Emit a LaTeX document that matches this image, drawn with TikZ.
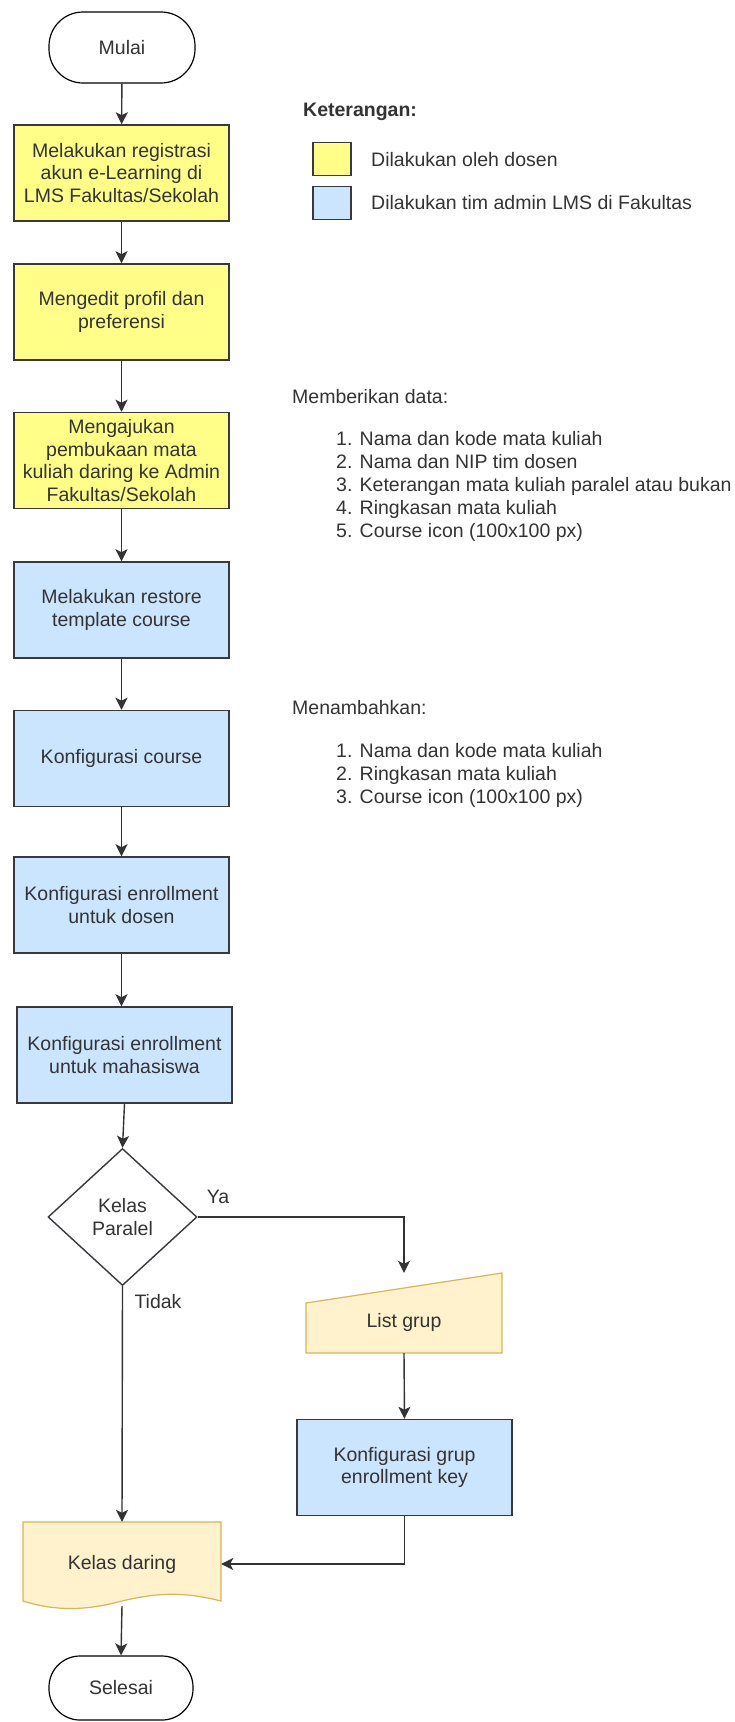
\documentclass[tikz,border=0pt]{standalone}
\usepackage{fontspec}
\setmainfont{Liberation Sans}
\usepackage{xcolor}
\usepackage{tikz}
\usetikzlibrary{arrows.meta,shapes.geometric}
\definecolor{ink}{HTML}{333333}
\definecolor{edge}{HTML}{36393D}
\definecolor{dosen}{HTML}{FFFF88}
\definecolor{admin}{HTML}{CCE5FF}
\definecolor{note}{HTML}{FFF2CC}
\definecolor{noteedge}{HTML}{D6B656}
\newcommand{\flowfont}{\fontsize{19.5}{22.5}\selectfont}
\tikzset{
  line/.style={draw=ink, line width=1.4pt},
  arrowline/.style={line, -{Stealth[length=12pt, width=12pt, inset=3pt]}},
  lbl/.style={text=ink, font=\flowfont, inner sep=0pt},
  term/.style={draw=black, line width=1.2pt, rounded corners=34pt, fill=white,
    minimum width=146pt, minimum height=71pt, inner sep=0pt, text=ink, font=\flowfont},
  boxbase/.style={draw=edge, line width=1.5pt, minimum width=215pt, minimum height=96pt,
    inner sep=0pt, align=center, text=ink, font=\flowfont},
  dosenbox/.style={boxbase, fill=dosen},
  adminbox/.style={boxbase, fill=admin},
  decision/.style={diamond, draw=edge, line width=1.4pt, fill=white, minimum width=149pt,
    minimum height=137pt, inner sep=0pt, align=center, text=ink, font=\flowfont},
  noteshape/.style={fill=note, draw=noteedge, line width=1.2pt},
  legbox/.style={draw=edge, line width=1.5pt, minimum width=38pt, minimum height=33pt, inner sep=0pt}
}

\begin{document}
\begin{tikzpicture}[x=1pt, y=-1pt]
  \useasboundingbox (0,0) rectangle (735,1722);
  \fill[white] (0,0) rectangle (735,1722);

  % main flow
  \node[term] (start) at (122,47.5) {Mulai};
  \node[dosenbox] (reg) at (121.5,173) {Melakukan registrasi\\akun e-Learning di\\LMS Fakultas/Sekolah};
  \node[dosenbox] (profil) at (121.5,312) {Mengedit profil dan\\preferensi};
  \node[dosenbox] (ajukan) at (121.5,460.5) {Mengajukan\\pembukaan mata\\kuliah daring ke Admin\\Fakultas/Sekolah};
  \node[adminbox] (restore) at (121.5,610) {Melakukan restore\\template course};
  \node[adminbox] (course) at (121.5,758.5) {Konfigurasi course};
  \node[adminbox] (enroldosen) at (121.5,905) {Konfigurasi enrollment\\untuk dosen};
  \node[adminbox] (enrolmhs) at (124.5,1055) {Konfigurasi enrollment\\untuk mahasiswa};
  \node[decision] (paralel) at (122.5,1217) {Kelas\\Paralel};

  % list grup (manual input)
  \filldraw[noteshape] (306,1353) -- (306,1303) -- (502,1273) -- (502,1353) -- cycle;
  \node[minimum width=196pt, minimum height=80pt, inner sep=0pt,
    label={[lbl, yshift=-9pt]center:List grup}] (listgrup) at (404,1313) {};

  \node[adminbox] (grupkey) at (404.5,1467.5) {Konfigurasi grup\\enrollment key};

  % kelas daring (document)
  \filldraw[noteshape] (23,1522) -- (221,1522) -- (221,1601)
    .. controls (185,1592) and (160,1592) .. (122,1601)
    .. controls (85,1611) and (55,1611) .. (23,1601) -- cycle;
  \node[lbl, minimum width=198pt, minimum height=84pt] (daring) at (122,1564) {Kelas daring};

  \node[term, minimum width=144pt, minimum height=64pt, rounded corners=31pt] (stop) at (121,1688) {Selesai};

  % connectors
  \draw[arrowline] (start) -- (reg);
  \draw[arrowline] (reg) -- (profil);
  \draw[arrowline] (profil) -- (ajukan);
  \draw[arrowline] (ajukan) -- (restore);
  \draw[arrowline] (restore) -- (course);
  \draw[arrowline] (course) -- (enroldosen);
  \draw[arrowline] (enroldosen.south) -- (enroldosen.south |- enrolmhs.north);
  \draw[arrowline] (enrolmhs.south) -- (paralel.north);
  \draw[arrowline] (paralel.east) -| (listgrup.north);
  \draw[arrowline] (paralel.south) -- (daring.north);
  \draw[arrowline] (listgrup.south) -- (grupkey.north);
  \draw[arrowline] (grupkey.south) |- (daring.east);
  \draw[arrowline] (daring.south) -- (stop.north);

  \node[lbl] (ya) at (218,1197) {Ya};
  \node[lbl] (tidak) at (158,1302) {Tidak};

  % legend
  \node[lbl, anchor=west, font=\flowfont\bfseries] (legtitle) at (303,112) {Keterangan:};
  \node[legbox, fill=dosen] (legdosen) at (332,159) {};
  \node[legbox, fill=admin] (legadmin) at (332,203) {};
  \node[lbl, anchor=west] (legdosentxt) at (371,160) {Dilakukan oleh dosen};
  \node[lbl, anchor=west] (legadmintxt) at (371,203) {Dilakukan tim admin LMS di Fakultas};

  % notes
  \node[lbl, anchor=west] (datahead) at (292,397) {Memberikan data:};
  \node[lbl, anchor=west, align=left, font=\fontsize{19.5}{23}\selectfont] (datalist) at (336,486)
    {1. Nama dan kode mata kuliah\\2. Nama dan NIP tim dosen\\3. Keterangan mata kuliah paralel atau bukan\\4. Ringkasan mata kuliah\\5. Course icon (100x100 px)};
  \node[lbl, anchor=west] (addhead) at (292,708) {Menambahkan:};
  \node[lbl, anchor=west, align=left, font=\fontsize{19.5}{23}\selectfont] (addlist) at (336,775)
    {1. Nama dan kode mata kuliah\\2. Ringkasan mata kuliah\\3. Course icon (100x100 px)};
\end{tikzpicture}
\end{document}
